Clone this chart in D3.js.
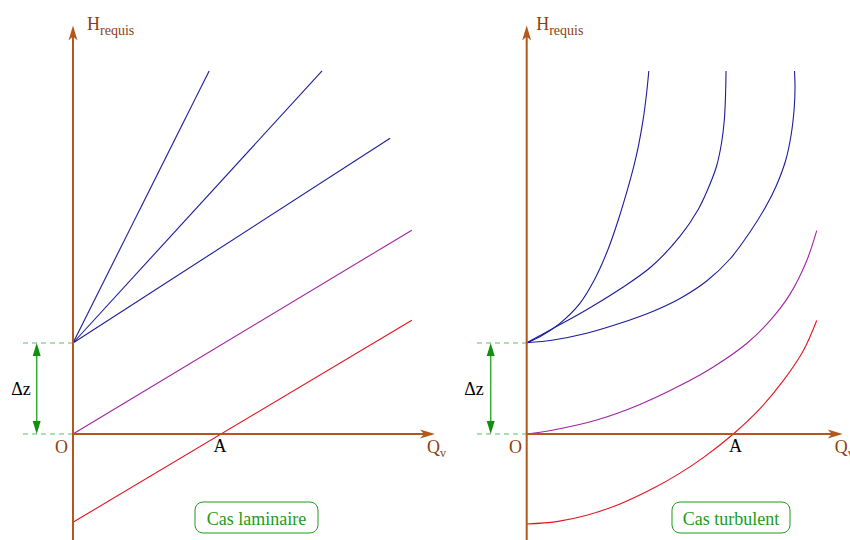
<!DOCTYPE html>
<html>
<head>
<meta charset="utf-8">
<script src="https://cdn.jsdelivr.net/npm/d3@7"></script>
<style>
  html, body { margin: 0; padding: 0; background: #fff; }
  svg { display: block; }
  text { font-family: "Liberation Serif", "Times New Roman", serif; }
</style>
</head>
<body>
<script>
// ---- Data (Q in flow units, H in units of Δz) ----
const deltaZ = 1;

// Laminar case: straight characteristics H = f(Q)
const laminarBlue = [
  [[0, 1.00], [3.76, 3.99]],
  [[0, 1.00], [6.88, 3.99]],
  [[0, 1.00], [8.76, 3.25]]
];
const laminarPurple = [[0, 0.00], [9.36, 2.24]];
const laminarRed = [[0, -0.97], [9.36, 1.25]];

// Turbulent case: curved characteristics
const turbulentBlue = [
  [[0, 1.003], [0.365, 1.069], [0.917, 1.216], [1.470, 1.436], [1.867, 1.692], [2.240, 2.022],
   [2.530, 2.352], [2.807, 2.718], [2.956, 2.937], [3.083, 3.157], [3.215, 3.451],
   [3.312, 3.744], [3.373, 3.989]],
  [[0, 1.003], [0.735, 1.162], [1.644, 1.363], [2.539, 1.582], [3.439, 1.838], [4.227, 2.168],
   [4.729, 2.462], [4.994, 2.681], [5.240, 2.937], [5.381, 3.195], [5.459, 3.451],
   [5.494, 3.744], [5.506, 3.989]],
  [[0, 1.003], [0.735, 1.033], [1.657, 1.107], [2.577, 1.216], [3.497, 1.349], [4.235, 1.489],
   [4.972, 1.681], [5.616, 1.923], [6.169, 2.220], [6.622, 2.511], [6.892, 2.725],
   [7.157, 3.011], [7.309, 3.297], [7.390, 3.582], [7.412, 3.802], [7.398, 3.989]]
];
const turbulentPurple = [[0, 0.000], [0.735, 0.044], [1.934, 0.154], [3.130, 0.325],
  [4.235, 0.532], [5.155, 0.737], [6.077, 0.995], [6.721, 1.245], [7.274, 1.537],
  [7.735, 1.904], [8.011, 2.234]];
const turbulentRed = [[0, -0.989], [0.829, -0.963], [1.657, -0.893], [2.577, -0.769],
  [3.497, -0.597], [4.235, -0.430], [4.878, -0.260], [5.707, 0.000], [6.445, 0.279],
  [7.088, 0.587], [7.641, 0.916], [8.011, 1.248]];

// Operating point A (red characteristic meets H = 0)
const pointA = [4.06, 5.71];
const caseLabels = ["Cas laminaire", "Cas turbulent"];

// ---- Layout ----
const width = 850, height = 540;
const unitQ = 36.2;             // px per Q unit
const yZero = 434, yDz = 343;   // pixel rows for H = 0 and H = Δz
const panels = [
  { ox: 73,    qMax: 10.0, hLabelDx: 14, dzX: 36.7, dashFrom: 23, dzLabelX: 21, oX: 61.5,
    aDx: 0, blue: laminarBlue, purple: laminarPurple, red: laminarRed, curve: d3.curveLinear,
    a: pointA[0], label: caseLabels[0], box: [195, 318] },
  { ox: 526.7, qMax: 8.73, hLabelDx: 9.5, dzX: 490.7, dashFrom: 477, dzLabelX: 474, oX: 515.5,
    aDx: 2, blue: turbulentBlue, purple: turbulentPurple, red: turbulentRed,
    curve: d3.curveCatmullRom.alpha(0.5),
    a: pointA[1], label: caseLabels[1], box: [672, 790] }
];

const colors = {
  axis: "#b3581c", axisText: "#8e3e10", blue: "#1c1c9c", purple: "#a323a3",
  red: "#e5141c", dash: "#5fbf5f", dzShaft: "#35ad35", dzHead: "#108f10",
  legend: "#1e9a1e", text: "#000"
};

const y = d3.scaleLinear().domain([0, deltaZ]).range([yZero, yDz]);

const svg = d3.select("body").append("svg")
  .attr("width", width).attr("height", height)
  .attr("viewBox", `0 0 ${width} ${height}`);

// barbed arrowhead pointing along +x, tip at origin
const barb = "M0,0 L-15,-4.5 L-11,0 L-15,4.5 Z";
// plain triangular head pointing along +x
const tri = "M0,0 L-13,-4 L-13,4 Z";

panels.forEach(p => {
  const x = d3.scaleLinear().domain([0, 1]).range([p.ox, p.ox + unitQ]);
  const g = svg.append("g");
  const line = d3.line().x(d => x(d[0])).y(d => y(d[1])).curve(p.curve);

  // dashed reference levels H = 0 and H = Δz
  [0, deltaZ].forEach(h => {
    g.append("line")
      .attr("x1", p.dashFrom).attr("x2", x(0))
      .attr("y1", y(h)).attr("y2", y(h))
      .attr("stroke", colors.dash).attr("stroke-width", 1)
      .attr("stroke-dasharray", "5,4");
  });

  // Δz dimension arrow
  g.append("line")
    .attr("x1", p.dzX).attr("x2", p.dzX)
    .attr("y1", y(deltaZ) + 8).attr("y2", y(0) - 8)
    .attr("stroke", colors.dzShaft).attr("stroke-width", 1.5);
  g.append("path").attr("d", tri).attr("fill", colors.dzHead)
    .attr("transform", `translate(${p.dzX},${y(deltaZ)}) rotate(-90)`);
  g.append("path").attr("d", tri).attr("fill", colors.dzHead)
    .attr("transform", `translate(${p.dzX},${y(0)}) rotate(90)`);
  g.append("text")
    .attr("x", p.dzLabelX).attr("y", (y(0) + y(deltaZ)) / 2 + 6)
    .attr("text-anchor", "middle").attr("font-size", 18).attr("fill", colors.text)
    .text("Δz");

  // characteristics
  p.blue.forEach(d => {
    g.append("path").attr("d", line(d)).attr("fill", "none")
      .attr("stroke", colors.blue).attr("stroke-width", 1.1);
  });
  g.append("path").attr("d", line(p.purple)).attr("fill", "none")
    .attr("stroke", colors.purple).attr("stroke-width", 1.1);
  g.append("path").attr("d", line(p.red)).attr("fill", "none")
    .attr("stroke", colors.red).attr("stroke-width", 1.1);

  // axes
  const xTip = x(p.qMax);
  const yTip = y(4.49);
  g.append("line")
    .attr("x1", x(0)).attr("x2", xTip - 10)
    .attr("y1", y(0)).attr("y2", y(0))
    .attr("stroke", colors.axis).attr("stroke-width", 2);
  g.append("path").attr("d", barb).attr("fill", colors.axis)
    .attr("transform", `translate(${xTip},${y(0)})`);
  g.append("line")
    .attr("x1", x(0)).attr("x2", x(0))
    .attr("y1", height + 2).attr("y2", yTip + 10)
    .attr("stroke", colors.axis).attr("stroke-width", 2);
  g.append("path").attr("d", barb).attr("fill", colors.axis)
    .attr("transform", `translate(${x(0)},${yTip}) rotate(-90)`);

  // axis titles
  const hl = g.append("text")
    .attr("x", x(0) + p.hLabelDx).attr("y", 30)
    .attr("font-size", 18).attr("fill", colors.axisText);
  hl.append("tspan").text("H");
  hl.append("tspan").attr("dy", 5).attr("font-size", 14).text("requis");

  const ql = g.append("text")
    .attr("x", xTip - 8).attr("y", y(0) + 19)
    .attr("font-size", 18).attr("fill", colors.axisText);
  ql.append("tspan").text("Q");
  ql.append("tspan").attr("dy", 4).attr("font-size", 12).text("v");

  // origin and point A
  g.append("text")
    .attr("x", p.oX).attr("y", y(0) + 18.5)
    .attr("text-anchor", "middle").attr("font-size", 18).attr("fill", colors.axisText)
    .text("O");
  g.append("text")
    .attr("x", x(p.a) + p.aDx).attr("y", y(0) + 18)
    .attr("text-anchor", "middle").attr("font-size", 18).attr("fill", colors.text)
    .text("A");

  // case label box
  const [bx0, bx1] = p.box;
  g.append("rect")
    .attr("x", bx0).attr("y", 502).attr("width", bx1 - bx0).attr("height", 31)
    .attr("rx", 8).attr("ry", 8)
    .attr("fill", "none").attr("stroke", colors.legend).attr("stroke-width", 1);
  g.append("text")
    .attr("x", (bx0 + bx1) / 2).attr("y", 525)
    .attr("text-anchor", "middle").attr("font-size", 18).attr("fill", colors.legend)
    .text(p.label);
});
</script>
</body>
</html>
